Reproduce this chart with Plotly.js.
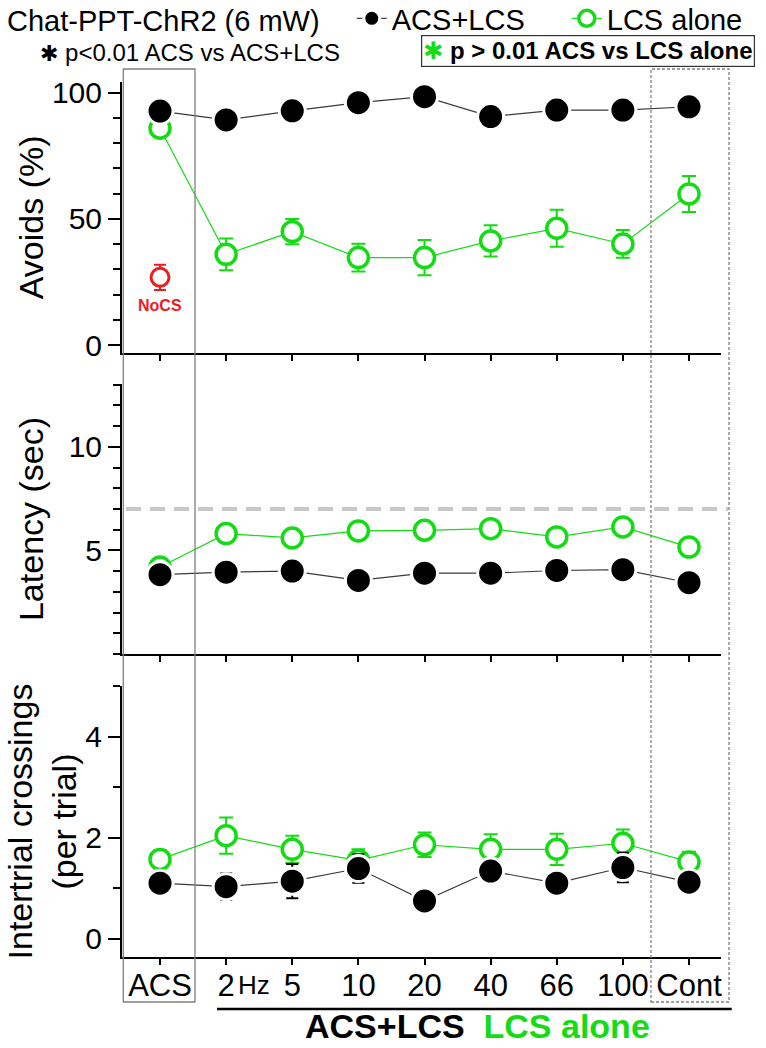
<!DOCTYPE html>
<html>
<head>
<meta charset="utf-8">
<script src="https://cdn.plot.ly/plotly-3.0.1.min.js"></script>
<style>
  html, body { margin: 0; padding: 0; background: #fff; }
  #chart { width: 766px; height: 1048px; }
</style>
</head>
<body>
<div id="chart"></div>
<script>
// Chat-PPT-ChR2 (6 mW) - avoids / latency / intertrial crossings

// Categories (x axis) and tick labels
const categories = ['ACS', '2Hz', '5', '10', '20', '40', '66', '100', 'Cont'];
const tickLabels = ['ACS', '2', '5', '10', '20', '40', '66', '100', 'Cont'];

// Avoids (%)
const avoidsBoth = [92.7, 89.2, 92.8, 96.0, 98.4, 90.5, 93.1, 93.1, 94.4];
const avoidsBothErr = [2, 2, 2, 1.5, 1, 2, 2, 2, 1.5];
const avoidsLcs = [85.9, 36.0, 45.0, 34.7, 34.7, 41.3, 46.3, 40.1, 59.9];
const avoidsLcsErr = [1.5, 6.3, 5.0, 5.5, 7.0, 6.2, 7.3, 5.5, 7.1];
const avoidsNoCs = [26.9];
const avoidsNoCsErr = [5];

// Latency (sec)
const latencyBoth = [3.83, 3.95, 4.0, 3.55, 3.9, 3.9, 4.03, 4.07, 3.44];
const latencyBothErr = [0.2, 0.2, 0.2, 0.2, 0.2, 0.2, 0.2, 0.2, 0.2];
const latencyLcs = [4.2, 5.81, 5.6, 5.94, 5.97, 6.05, 5.65, 6.13, 5.16];
const latencyLcsErr = [0.2, 0.2, 0.2, 0.2, 0.2, 0.2, 0.2, 0.2, 0.2];
const latencyCutoff = 7;

// Intertrial crossings (per trial)
const crossBoth = [1.10, 1.03, 1.14, 1.39, 0.75, 1.34, 1.10, 1.41, 1.12];
const crossBothErr = [0.12, 0.26, 0.34, 0.28, 0.22, 0.23, 0.23, 0.29, 0.15];
const crossLcs = [1.57, 2.04, 1.77, 1.55, 1.86, 1.77, 1.77, 1.89, 1.52];
const crossLcsErr = [0.18, 0.36, 0.27, 0.22, 0.24, 0.30, 0.31, 0.27, 0.20];

const GREEN = '#14dc14';
const RED = '#ee1c1c';
const FONT = 'Liberation Sans, Arial, sans-serif';

// Page geometry (px) used to place paper-referenced decorations
const W = 766, H = 1048;
const M = { l: 122, r: 45, t: 82, b: 91 };
const plotW = W - M.l - M.r;
const plotH = H - M.t - M.b;
function px(x) { return (x - M.l) / plotW; }
function py(y) { return (H - M.b - y) / plotH; }

// Black series: filled circles with a white rim so the line stops short
function bothTrace(y, err, xa, ya, showLegend) {
    return {
        x: categories, y: y,
        xaxis: xa, yaxis: ya,
        type: 'scatter', mode: 'lines+markers',
        name: 'ACS+LCS',
        legendrank: 1,
        showlegend: showLegend,
        line: { color: '#3a3a3a', width: 1.2 },
        marker: { color: 'black', size: 26, line: { color: 'white', width: 3 } },
        error_y: { type: 'data', array: err, color: 'black', thickness: 2, width: 6 }
    };
}

// Green series: open circles
function lcsTrace(y, err, xa, ya, showLegend) {
    return {
        x: categories, y: y,
        xaxis: xa, yaxis: ya,
        type: 'scatter', mode: 'lines+markers',
        name: 'LCS alone',
        legendrank: 2,
        showlegend: showLegend,
        line: { color: GREEN, width: 1.2 },
        marker: { color: 'white', size: 20, line: { color: GREEN, width: 3.5 } },
        error_y: { type: 'data', array: err, color: GREEN, thickness: 2, width: 7 }
    };
}

function yAxis(domain, range, minorDtick, tickvals) {
    return {
        domain: domain,
        range: range,
        showline: true, linecolor: 'black', linewidth: 2,
        ticks: 'outside', ticklen: 12, tickwidth: 2, tickcolor: 'black',
        tickvals: tickvals,
        minor: { dtick: minorDtick, ticks: 'outside', ticklen: 7, tickwidth: 2, tickcolor: 'black' },
        showgrid: false, zeroline: false,
        tickfont: { size: 30, color: 'black' },
        fixedrange: true
    };
}

function xAxis(anchor, showLabels) {
    return {
        anchor: anchor,
        type: 'category',
        categoryarray: categories,
        range: [-0.575, 8.484],
        showline: true, linecolor: 'black', linewidth: 2,
        ticks: 'outside', ticklen: 6, tickwidth: 2, tickcolor: 'black',
        tickvals: categories,
        ticktext: tickLabels,
        showticklabels: showLabels,
        ticklabelstandoff: -6,
        tickfont: { size: 31, color: 'black' },
        showgrid: false, zeroline: false,
        fixedrange: true
    };
}

const traces = [
    lcsTrace(avoidsLcs, avoidsLcsErr, 'x', 'y', true),
    bothTrace(avoidsBoth, avoidsBothErr, 'x', 'y', true),
    {
        x: ['ACS'], y: avoidsNoCs,
        xaxis: 'x', yaxis: 'y',
        type: 'scatter', mode: 'markers',
        name: 'NoCS', showlegend: false,
        marker: { color: 'white', size: 18, line: { color: RED, width: 3 } },
        error_y: { type: 'data', array: avoidsNoCsErr, color: RED, thickness: 2, width: 6 }
    },
    lcsTrace(latencyLcs, latencyLcsErr, 'x2', 'y2', false),
    bothTrace(latencyBoth, latencyBothErr, 'x2', 'y2', false),
    lcsTrace(crossLcs, crossLcsErr, 'x3', 'y3', false),
    bothTrace(crossBoth, crossBothErr, 'x3', 'y3', false)
];

const yTop = yAxis([py(352.7), 1], [-2.93, 104.2], 10, [0, 50, 100]);
yTop.title = { text: 'Avoids (%)', font: { size: 34, color: 'black' } };
const yMid = yAxis([py(654), py(384)], [0, 13.03], 1, [5, 10]);
yMid.title = { text: 'Latency (sec)', font: { size: 34, color: 'black' } };
const yBot = yAxis([0, py(686)], [-0.36, 5.0], 1, [0, 2, 4]);
yBot.title = { text: 'Intertrial crossings<br>(per trial)', font: { size: 34, color: 'black' } };

const layout = {
    width: W, height: H,
    margin: { l: M.l, r: M.r, t: M.t, b: M.b, autoexpand: false },
    paper_bgcolor: 'white', plot_bgcolor: 'white',
    font: { family: FONT, color: 'black' },
    showlegend: true,
    legend: {
        orientation: 'h',
        x: px(5), y: py(-7), xanchor: 'left', yanchor: 'top',
        bgcolor: 'rgba(0,0,0,0)',
        font: { size: 29, color: 'black' },
        entrywidth: 170,
        title: { text: 'Chat-PPT-ChR2 (6 mW)&nbsp;&nbsp;&nbsp;', font: { size: 29, color: 'black' }, side: 'left' },
        itemclick: false, itemdoubleclick: false
    },
    xaxis: xAxis('y', false),
    xaxis2: xAxis('y2', false),
    xaxis3: xAxis('y3', true),
    yaxis: yTop,
    yaxis2: yMid,
    yaxis3: yBot,
    shapes: [
        // ACS column frame
        { type: 'rect', xref: 'paper', yref: 'paper', x0: px(123.3), x1: px(195), y0: py(1002), y1: py(69),
          line: { color: '#808080', width: 1.3 } },
        // Cont column frame
        { type: 'rect', xref: 'paper', yref: 'paper', x0: px(651), x1: px(729), y0: py(1002), y1: py(69),
          line: { color: '#808080', width: 1.3, dash: '3px,2px' } },
        // latency cut-off
        { type: 'line', xref: 'paper', yref: 'y2', x0: px(126), x1: px(728), y0: latencyCutoff, y1: latencyCutoff,
          line: { color: '#c8c8c8', width: 4, dash: '15px,9px' } },
        // underline of the stimulation frequencies
        { type: 'line', xref: 'paper', yref: 'paper', x0: px(217), x1: px(731.7), y0: py(1009), y1: py(1009),
          line: { color: 'black', width: 2.5 } }
    ],
    annotations: [
        { xref: 'x', yref: 'y', x: 'ACS', y: 15.7, showarrow: false,
          text: '<b>NoCS</b>', font: { size: 16, color: RED } },
        { xref: 'paper', yref: 'paper', x: px(38), y: py(52), xanchor: 'left', yanchor: 'middle', showarrow: false,
          text: '<span style="font-family:DejaVu Sans;font-size:22px">✱</span> p&lt;0.01 ACS vs ACS+LCS', font: { size: 24, color: 'black' } },
        { xref: 'paper', yref: 'paper', x: px(587.5), y: py(51), xanchor: 'center', yanchor: 'middle', showarrow: false,
          text: '<span style="color:' + GREEN + ';font-family:DejaVu Sans;font-size:24px">✱</span> <b>p &gt; 0.01 ACS vs LCS alone</b>',
          font: { size: 24, color: 'black' },
          bordercolor: '#333', borderwidth: 1.2, borderpad: 1, bgcolor: 'white' },
        { xref: 'paper', yref: 'paper', x: px(236), y: py(985), xanchor: 'left', yanchor: 'middle', showarrow: false,
          text: 'Hz', font: { size: 26, color: 'black' } },
        { xref: 'paper', yref: 'paper', x: px(477.5), y: py(1026), xanchor: 'center', yanchor: 'middle', showarrow: false,
          text: '<b>ACS+LCS  <span style="color:' + GREEN + '">LCS alone</span></b>', font: { size: 34, color: 'black' } }
    ]
};

Plotly.newPlot('chart', traces, layout, { displayModeBar: false, staticPlot: true });
</script>
</body>
</html>
